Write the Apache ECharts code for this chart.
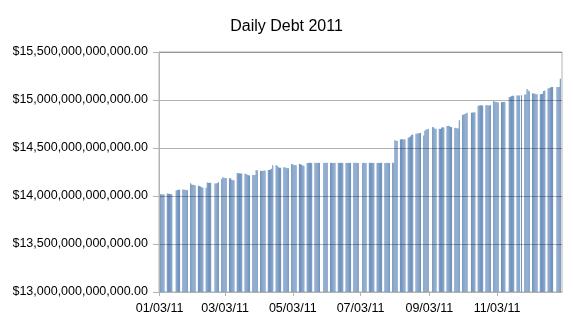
<!DOCTYPE html>
<html><head><meta charset="utf-8">
<script src="https://cdn.jsdelivr.net/npm/echarts@6/dist/echarts.min.js"></script>
<style>html,body{margin:0;padding:0;background:#fff}#c{width:573px;height:322px}</style>
</head><body><div id="c"></div>
<script>
const chartTitle = 'Daily Debt 2011';
const firstDay = '2011-01-03';
const lastDay = '2011-12-31';
const xTickLabels = ['01/03/11','03/03/11','05/03/11','07/03/11','09/03/11','11/03/11'];
const yTicks = [13, 13.5, 14, 14.5, 15, 15.5]; // trillions of dollars
const yTickLabels = ['$13,000,000,000,000.00','$13,500,000,000,000.00','$14,000,000,000,000.00',
  '$14,500,000,000,000.00','$15,000,000,000,000.00','$15,500,000,000,000.00'];
// Monday of each week
const weekStarts = ['2011-01-03','2011-01-10','2011-01-17','2011-01-24','2011-01-31','2011-02-07','2011-02-14',
  '2011-02-21','2011-02-28','2011-03-07','2011-03-14','2011-03-21','2011-03-28','2011-04-04','2011-04-11',
  '2011-04-18','2011-04-25','2011-05-02','2011-05-09','2011-05-16','2011-05-23','2011-05-30','2011-06-06',
  '2011-06-13','2011-06-20','2011-06-27','2011-07-04','2011-07-11','2011-07-18','2011-07-25','2011-08-01',
  '2011-08-08','2011-08-15','2011-08-22','2011-08-29','2011-09-05','2011-09-12','2011-09-19','2011-09-26',
  '2011-10-03','2011-10-10','2011-10-17','2011-10-24','2011-10-31','2011-11-07','2011-11-14','2011-11-21',
  '2011-11-28','2011-12-05','2011-12-12','2011-12-19','2011-12-26'];
// Debt in trillions, Mon..Fri of each week (null = holiday)
const debtByWeek = [
  [14.023,14.018,14.016,14.017,14.015],
  [14.025,14.024,14.022,14.020,14.018],
  [null,14.058,14.062,14.064,14.065],
  [14.068,14.066,14.064,14.062,14.061],
  [14.133,14.121,14.118,14.115,14.112],
  [14.108,14.103,14.098,14.090,14.086],
  [14.085,14.140,14.138,14.136,14.137],
  [null,14.130,14.130,14.135,14.142],
  [14.178,14.195,14.190,14.188,14.187],
  [14.185,14.186,14.170,14.165,14.163],
  [14.240,14.238,14.236,14.235,14.234],
  [14.232,14.230,14.222,14.216,14.214],
  [14.218,14.220,14.220,14.270,14.266],
  [14.262,14.260,14.262,14.263,14.265],
  [14.270,14.272,14.275,14.284,14.320],
  [14.320,14.315,14.300,14.295,14.293],
  [14.300,14.298,14.295,14.290,14.288],
  [14.333,14.330,14.320,14.322,14.320],
  [14.333,14.330,14.325,14.318,14.316],
  [14.345,14.345,14.346,14.346,14.345],
  [14.346,14.345,14.345,14.346,14.345],
  [null,14.345,14.346,14.345,14.346],
  [14.345,14.346,14.345,14.345,14.346],
  [14.346,14.345,14.345,14.346,14.345],
  [14.345,14.346,14.345,14.345,14.346],
  [14.346,14.345,14.346,14.345,14.345],
  [null,14.345,14.346,14.345,14.345],
  [14.346,14.345,14.345,14.346,14.345],
  [14.345,14.346,14.345,14.345,14.346],
  [14.345,14.345,14.346,14.345,14.345],
  [14.346,14.345,14.582,14.575,14.572],
  [14.590,14.590,14.590,14.588,14.590],
  [14.604,14.615,14.620,14.635,14.640],
  [14.648,14.650,14.652,14.657,14.656],
  [14.630,14.680,14.690,14.695,14.698],
  [null,14.718,14.714,14.700,14.700],
  [14.700,14.698,14.712,14.715,14.714],
  [14.728,14.732,14.730,14.720,14.718],
  [14.710,14.706,14.705,14.704,14.790],
  [14.845,14.850,14.855,14.860,14.866],
  [null,14.868,14.870,14.871,14.872],
  [14.940,14.944,14.945,14.944,14.944],
  [14.946,14.945,14.944,14.944,14.945],
  [14.990,14.982,14.978,14.976,14.975],
  [14.977,14.978,14.979,14.980,null],
  [15.030,15.035,15.040,15.043,15.045],
  [15.047,15.048,15.048,null,15.050],
  [15.056,15.058,15.115,15.100,15.090],
  [15.070,15.068,15.065,15.060,15.060],
  [15.060,15.062,15.065,15.095,15.100],
  [15.120,15.125,15.130,15.135,15.135],
  [null,15.135,15.134,15.136,15.222]
];

// build calendar-day categories and per-day values
const DAY = 86400000;
const t0 = Date.parse(firstDay + 'T00:00:00Z');
const t1 = Date.parse(lastDay + 'T00:00:00Z');
const nDays = Math.round((t1 - t0) / DAY) + 1;
const pad = n => (n < 10 ? '0' : '') + n;
const categories = [];
const values = [];
for (let i = 0; i < nDays; i++) {
  const d = new Date(t0 + i * DAY);
  categories.push(pad(d.getUTCMonth() + 1) + '/' + pad(d.getUTCDate()) + '/' + String(d.getUTCFullYear()).slice(2));
  values.push(null);
}
weekStarts.forEach((ws, w) => {
  const base = Math.round((Date.parse(ws + 'T00:00:00Z') - t0) / DAY);
  debtByWeek[w].forEach((v, j) => { if (v !== null && base + j < nDays) values[base + j] = v; });
});

const FONT = 'Liberation Sans';
const tickFn = (idx, val) => xTickLabels.indexOf(categories[idx]) >= 0;
const chart = echarts.init(document.getElementById('c'), null, {renderer: 'canvas'});
chart.setOption({
  animation: false,
  backgroundColor: '#ffffff',
  title: {
    text: chartTitle, left: 'center', top: 14,
    textStyle: {fontFamily: FONT, fontSize: 16, fontWeight: 'normal', color: '#000'}
  },
  grid: {left: 159, top: 52, width: 403, height: 240, show: true, borderColor: '#b3b3b3', borderWidth: 1, containLabel: false},
  xAxis: {
    type: 'category', data: categories, boundaryGap: true, z: 3,
    axisLine: {lineStyle: {color: '#b3b3b3', width: 1}},
    axisTick: {show: true, interval: tickFn, alignWithLabel: true, length: 4, lineStyle: {color: '#b3b3b3'}},
    axisLabel: {interval: tickFn, fontFamily: FONT, fontSize: 12.5, color: '#000', margin: 10},
    splitLine: {show: false}
  },
  yAxis: {
    type: 'value', min: yTicks[0], max: yTicks[yTicks.length - 1], interval: 0.5, z: 3,
    axisLine: {show: true, lineStyle: {color: '#b3b3b3', width: 1}},
    axisTick: {show: true, length: 6, lineStyle: {color: '#b3b3b3'}},
    axisLabel: {
      fontFamily: FONT, fontSize: 12.5, color: '#000', margin: 11,
      formatter: v => { const k = yTicks.indexOf(Math.round(v * 10) / 10); return k >= 0 ? yTickLabels[k] : ''; }
    },
    splitLine: {show: true, lineStyle: {color: 'rgba(0,0,0,0.3)', width: 1}}
  },
  series: [{
    type: 'bar', data: values, z: 2,
    barCategoryGap: '0%', barGap: '0%',
    itemStyle: {color: '#7194bf'},
    emphasis: {disabled: true}
  }]
});
</script></body></html>
